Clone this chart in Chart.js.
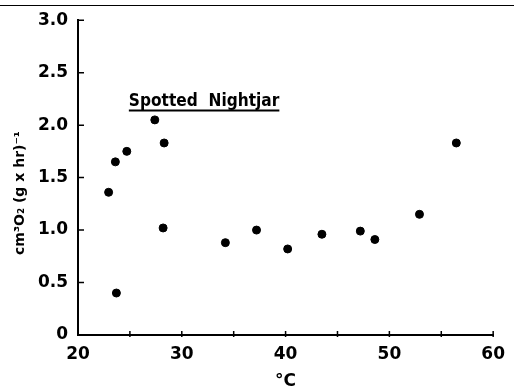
<!DOCTYPE html>
<html>
<head>
<meta charset="utf-8">
<script src="https://cdn.jsdelivr.net/npm/chart.js@4.4.1/dist/chart.umd.min.js"></script>
<style>
  html, body { margin: 0; padding: 0; background: #fff; }
  #wrap { position: relative; width: 514px; height: 392px; }
  #topRule { position: absolute; left: 0; top: 5px; width: 514px; height: 0; border-top: 1.5px solid #000; }
</style>
</head>
<body>
<div id="wrap">
  <div id="topRule"></div>
  <canvas id="chart" width="514" height="392"></canvas>
</div>
<script>
// temperature (deg C) and oxygen consumption, Spotted Nightjar
const tempC = [22.95, 23.6, 23.7, 24.7, 27.4, 28.3, 28.2, 34.2, 37.2, 40.2, 43.5, 47.2, 48.6, 52.9, 56.45];
const oxygen = [1.36, 1.65, 0.40, 1.75, 2.05, 1.83, 1.02, 0.88, 1.00, 0.82, 0.96, 0.99, 0.91, 1.15, 1.83];

const xTickMarks = [25, 30, 35, 40, 45, 50, 55, 60];
const yTickMarks = [0.5, 1.0, 1.5, 2.0, 2.5, 3.0];

const speciesLabel = 'Spotted  Nightjar';
const yAxisLabel = 'cm\u00b3O\u2082 (g x hr)\u207b\u00b9';

const FONT = 'DejaVu Sans';

// inward tick marks, the species label and the rotated y label
const extras = {
  id: 'extras',
  afterDraw(chart) {
    const ctx = chart.ctx;
    const xs = chart.scales.x;
    const ys = chart.scales.y;
    const x0 = xs.getPixelForValue(20);
    const y0 = ys.getPixelForValue(0);
    ctx.save();
    ctx.strokeStyle = '#000';
    ctx.lineWidth = 1.5;
    ctx.beginPath();
    xTickMarks.forEach(v => {
      const px = xs.getPixelForValue(v);
      ctx.moveTo(px, y0 + 2);
      ctx.lineTo(px, y0 - 4);
    });
    yTickMarks.forEach(v => {
      const py = ys.getPixelForValue(v);
      ctx.moveTo(x0, py);
      ctx.lineTo(x0 + 6, py);
    });
    ctx.stroke();

    // species label, underlined
    const lx = xs.getPixelForValue(24.9);
    const rx = xs.getPixelForValue(39.4);
    const ly = ys.getPixelForValue(2.14);
    ctx.fillStyle = '#000';
    ctx.font = 'bold 17px "' + FONT + '"';
    ctx.textBaseline = 'alphabetic';
    ctx.textAlign = 'left';
    const w = ctx.measureText(speciesLabel).width;
    ctx.save();
    ctx.translate(lx, ly - 4);
    ctx.scale((rx - lx) / w, 1);
    ctx.fillText(speciesLabel, 0, 0);
    ctx.restore();
    ctx.lineWidth = 2;
    ctx.beginPath();
    ctx.moveTo(lx, ly);
    ctx.lineTo(rx, ly);
    ctx.stroke();

    // y axis title
    ctx.translate(20, 193);
    ctx.rotate(-Math.PI / 2);
    ctx.font = 'bold 14px "' + FONT + '"';
    ctx.textAlign = 'center';
    ctx.textBaseline = 'middle';
    ctx.fillText(yAxisLabel, 0, 0);
    ctx.restore();
  }
};

new Chart(document.getElementById('chart'), {
  type: 'scatter',
  data: {
    datasets: [{
      data: tempC.map((t, i) => ({ x: t, y: oxygen[i] })),
      backgroundColor: '#000',
      borderColor: '#000',
      pointRadius: 4,
      pointHoverRadius: 4
    }]
  },
  options: {
    responsive: false,
    devicePixelRatio: 1,
    animation: false,
    layout: { padding: { top: 19, right: 15, left: 0, bottom: 0 } },
    plugins: {
      legend: { display: false },
      tooltip: { enabled: false }
    },
    scales: {
      x: {
        type: 'linear',
        min: 20,
        max: 60,
        afterFit: s => { s.height = 57; },
        grid: { display: false, drawTicks: false },
        border: { display: true, color: '#000', width: 2 },
        ticks: {
          stepSize: 10,
          color: '#000',
          padding: 9,
          font: { family: FONT, size: 17, weight: 'bold' }
        },
        title: {
          display: true,
          text: '\u00b0C',
          color: '#000',
          padding: { top: 0, bottom: 0 },
          font: { family: FONT, size: 17, weight: 'bold' }
        }
      },
      y: {
        min: 0,
        max: 3,
        afterFit: s => { s.width = 78; },
        grid: { display: false, drawTicks: false },
        border: { display: true, color: '#000', width: 2 },
        ticks: {
          stepSize: 0.5,
          color: '#000',
          padding: 10,
          font: { family: FONT, size: 17, weight: 'bold' },
          callback: v => v === 0 ? '0' : v.toFixed(1)
        }
      }
    }
  },
  plugins: [extras]
});
</script>
</body>
</html>
